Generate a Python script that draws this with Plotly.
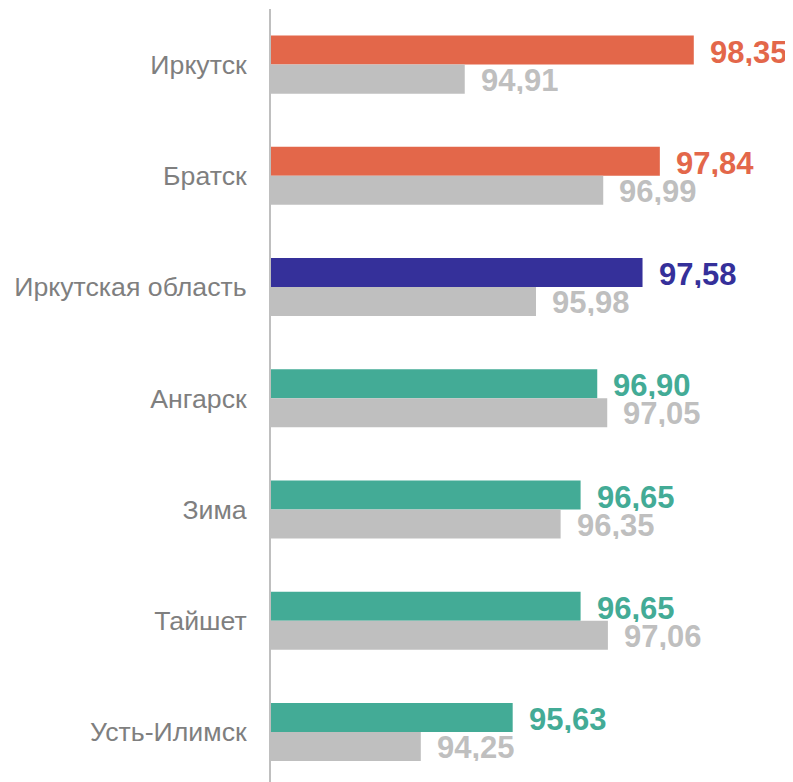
import plotly.graph_objects as go

categories = ["Иркутск", "Братск", "Иркутская область", "Ангарск", "Зима", "Тайшет", "Усть-Илимск"]
current = [98.35, 97.84, 97.58, 96.90, 96.65, 96.65, 95.63]
previous = [94.91, 96.99, 95.98, 97.05, 96.35, 97.06, 94.25]
bar_colors = ["#E3674A", "#E3674A", "#35309A", "#43AB96", "#43AB96", "#43AB96", "#43AB96"]
gray = "#BFBFBF"

def fmt(v):
    return f"{v:.2f}".replace(".", ",")

fig = go.Figure()
fig.add_trace(go.Bar(y=categories, x=current, orientation="h", marker=dict(color=bar_colors, line=dict(width=0)),
                     showlegend=False, hoverinfo="skip"))
fig.add_trace(go.Bar(y=categories, x=previous, orientation="h", marker=dict(color=gray, line=dict(width=0)),
                     showlegend=False, hoverinfo="skip"))

annotations = []
for c, v, col in zip(categories, current, bar_colors):
    annotations.append(dict(x=v, y=c, text=f"<b>{fmt(v)}</b>", showarrow=False, xanchor="left", yanchor="middle",
                            xshift=14, yshift=13, height=28, valign="middle",
                            font=dict(family="Liberation Sans, Arial", size=31, color=col)))
for c, v in zip(categories, previous):
    annotations.append(dict(x=v, y=c, text=f"<b>{fmt(v)}</b>", showarrow=False, xanchor="left", yanchor="middle",
                            xshift=14, yshift=-15, height=28, valign="middle",
                            font=dict(family="Liberation Sans, Arial", size=31, color=gray)))

fig.update_layout(
    width=785, height=774,
    margin=dict(l=263, r=0, t=1, b=0),
    barmode="group", bargap=0.478, bargroupgap=0,
    plot_bgcolor="white", paper_bgcolor="white",
    annotations=annotations,
    xaxis=dict(range=[92, 99.84], showgrid=False, zeroline=False, showticklabels=False, showline=False, fixedrange=True),
    yaxis=dict(range=[6.45, -0.5], showgrid=False, zeroline=False, showline=True, linecolor="#BFBFBF", linewidth=2,
               ticks="", ticklabelstandoff=17, tickfont=dict(family="Liberation Sans, Arial", size=26.7, color="#7F7F7F")),
)
fig.write_html("out.html")
